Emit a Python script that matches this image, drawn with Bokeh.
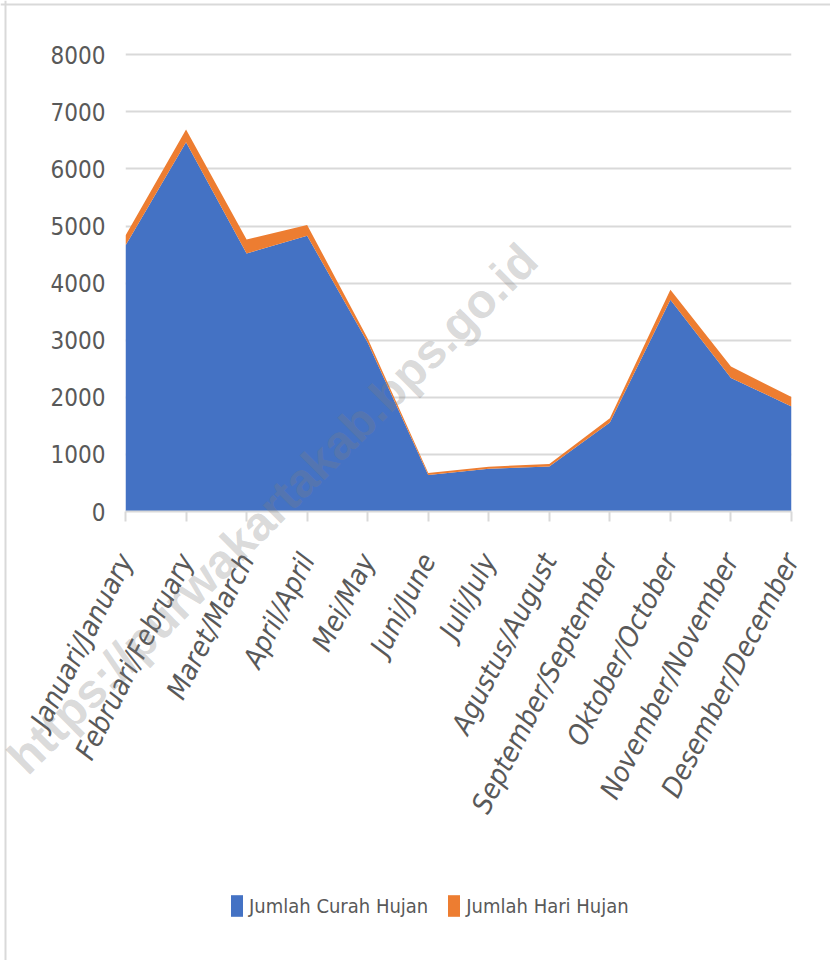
import math
from bokeh.plotting import figure
from bokeh.models import (ColumnDataSource, FixedTicker, Range1d, Legend, LegendItem,
                          Label, Span)
from bokeh.embed import file_html
from bokeh.resources import INLINE

months = ["Januari/January", "Februari/February", "Maret/March", "April/April",
          "Mei/May", "Juni/June", "Juli/July", "Agustus/August",
          "September/September", "Oktober/October", "November/November",
          "Desember/December"]
curah_hujan = [4660, 6470, 4520, 4830, 2960, 640, 750, 790, 1560, 3710, 2340, 1840]
hari_hujan = [175, 220, 245, 190, 70, 35, 35, 40, 75, 175, 200, 165]
y_ticks = [0, 1000, 2000, 3000, 4000, 5000, 6000, 7000, 8000]
series_names = ["Jumlah Curah Hujan", "Jumlah Hari Hujan"]
watermark = "https://purwakartakab.bps.go.id"

BLUE = "#4472C4"
ORANGE = "#ED7D31"
GRID = "#d9d9d9"
TXT = "#595959"
COND = "'DejaVu Sans Condensed', 'Liberation Sans Narrow', 'Liberation Sans', sans-serif"

xs = list(range(len(months)))
src = ColumnDataSource(dict(x=xs, curah=curah_hujan, hari=hari_hujan))

p = figure(frame_width=666, frame_height=459, output_backend="svg", toolbar_location=None,
           x_range=Range1d(0, len(months) - 1), y_range=Range1d(0, 8040),
           min_border_left=125, min_border_right=39, min_border_top=52,
           min_border_bottom=449)
p.outline_line_color = None
p.background_fill_color = "white"
p.border_fill_color = "white"

rs = p.varea_stack(["curah", "hari"], x="x", color=[BLUE, ORANGE], source=src)

p.xgrid.visible = False
p.ygrid.grid_line_color = GRID
p.ygrid.grid_line_width = 2
p.ygrid.ticker = FixedTicker(ticks=y_ticks)

p.yaxis.ticker = FixedTicker(ticks=y_ticks)
p.yaxis.axis_line_color = None
p.yaxis.major_tick_line_color = None
p.yaxis.minor_tick_line_color = None
p.yaxis.major_label_standoff = 14
p.yaxis.major_label_text_font = COND
p.yaxis.major_label_text_font_size = "24px"
p.yaxis.major_label_text_color = TXT

p.xaxis.ticker = FixedTicker(ticks=xs)
p.xaxis.major_label_overrides = {i: m for i, m in zip(xs, months)}
p.xaxis.major_label_orientation = math.radians(63)
p.xaxis.axis_line_color = GRID
p.xaxis.axis_line_width = 2
p.xaxis.major_tick_line_color = GRID
p.xaxis.major_tick_line_width = 2
p.xaxis.major_tick_out = 10
p.xaxis.major_tick_in = 0
p.xaxis.minor_tick_line_color = None
p.xaxis.major_label_standoff = 34
p.xaxis.major_label_text_font = COND
p.xaxis.major_label_text_font_style = "italic"
p.xaxis.major_label_text_font_size = "28px"
p.xaxis.major_label_text_color = TXT

# transparent overlay (second root): chart border, watermark and legend,
# which must not be clipped to the data frame of the main figure
OW, OH = 830, 960
ov = figure(width=OW, height=OH, output_backend="svg", toolbar_location=None,
            x_range=Range1d(0, OW), y_range=Range1d(OH, 0), min_border=0,
            x_axis_location=None, y_axis_location=None)
ov.grid.visible = False
ov.outline_line_color = None
ov.background_fill_alpha = 0
ov.border_fill_alpha = 0
ov.styles = {"position": "absolute", "top": "0px", "left": "0px"}

ov.add_layout(Span(location=4, dimension="width", line_color=GRID, line_width=2))
ov.add_layout(Span(location=5, dimension="height", line_color=GRID, line_width=2))

ov.add_layout(Label(x=272, y=508, text=watermark, angle=math.radians(45),
                    text_align="center", text_baseline="middle",
                    text_font="Liberation Sans", text_font_style="bold",
                    text_font_size="48px", text_color="#808080", text_alpha=0.3))

# legend swatches reuse the same stacked series (hidden in the overlay)
proxies = ov.varea_stack(["curah", "hari"], x="x", color=[BLUE, ORANGE], source=src)
for r in proxies:
    r.visible = False
legend = Legend(items=[LegendItem(label=series_names[0], renderers=[proxies[0]]),
                       LegendItem(label=series_names[1], renderers=[proxies[1]])],
                orientation="horizontal", location=(229, 41))
legend.border_line_color = None
legend.background_fill_alpha = 0
legend.inactive_fill_alpha = 0
legend.glyph_width = 15
legend.glyph_height = 27
legend.label_standoff = 5
legend.spacing = 18
legend.padding = 10
legend.margin = 0
legend.label_text_font = COND
legend.label_text_font_size = "20px"
legend.label_text_color = TXT
ov.add_layout(legend)

open("out.html", "w").write(file_html([p, ov], INLINE))
